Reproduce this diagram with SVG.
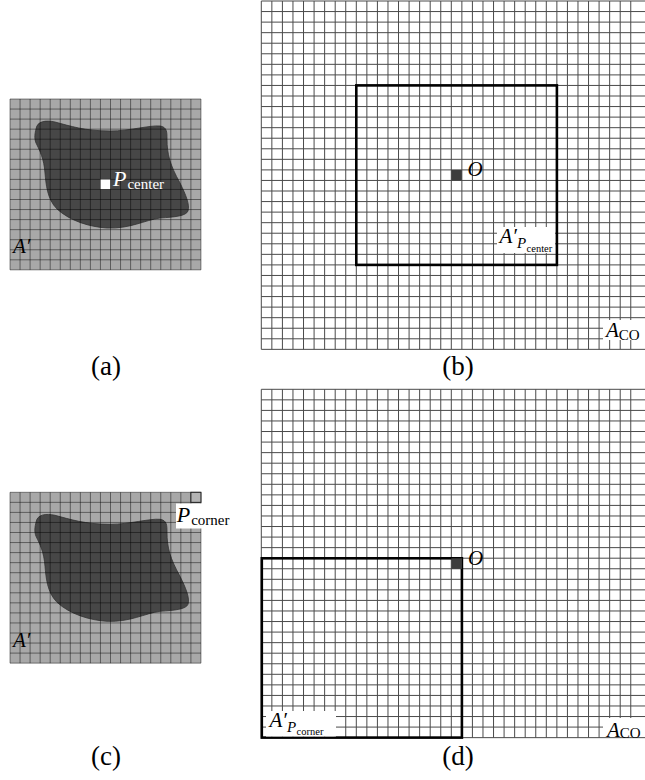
<svg xmlns="http://www.w3.org/2000/svg" xmlns:xlink="http://www.w3.org/1999/xlink" width="645" height="780" viewBox="0 0 645 780">
<style>
.serif{font-family:"Liberation Serif","Times New Roman",serif;}
.it{font-style:italic;}
.up{font-style:normal;}
.cap{font-size:27px;text-anchor:middle;}
.big{font-size:21px;}
.gridL{fill:none;stroke:#000;stroke-opacity:0.45;stroke-width:1;}
.gridB{fill:none;stroke:#4a4a4a;stroke-width:1;}
.frame{fill:none;stroke:#000;stroke-width:2.6;}
</style>
<defs>
<path id="blob" d="M26 30C27 22 36 21 45 23C60 27 75 32 100 32C120 32 140 26 150 27C157 28 157 33 157 40C157 55 160 66 170 84C176 96 180 106 178 112C176 117 165 118 150 119C135 121 120 130 97 129C80 128 60 122 47 110C37 100 36 85 35 74C34 60 30 52 26 44C24 39 25 34 26 30Z" fill="#474747" stroke="#333" stroke-width="0.8"/>
<path id="smallGrid" class="gridL" d="M0 0v170.85m10.05-170.85v170.85m10.05-170.85v170.85m10.05-170.85v170.85m10.05-170.85v170.85m10.05-170.85v170.85m10.05-170.85v170.85m10.05-170.85v170.85m10.05-170.85v170.85m10.05-170.85v170.85m10.05-170.85v170.85m10.05-170.85v170.85m10.05-170.85v170.85m10.05-170.85v170.85m10.05-170.85v170.85m10.05-170.85v170.85m10.05-170.85v170.85m10.05-170.85v170.85m10.05-170.85v170.85m10.05-170.85v170.85M0 0h190.95m-190.95 10.05h190.95m-190.95 10.05h190.95m-190.95 10.05h190.95m-190.95 10.05h190.95m-190.95 10.05h190.95m-190.95 10.05h190.95m-190.95 10.05h190.95m-190.95 10.05h190.95m-190.95 10.05h190.95m-190.95 10.05h190.95m-190.95 10.05h190.95m-190.95 10.05h190.95m-190.95 10.05h190.95m-190.95 10.05h190.95m-190.95 10.05h190.95m-190.95 10.05h190.95m-190.95 10.05h190.95"/>
<path id="bigGrid" class="gridB" d="M0 0v348.35m10.556-348.35v348.35m10.556-348.35v348.35m10.556-348.35v348.35m10.556-348.35v348.35m10.556-348.35v348.35m10.556-348.35v348.35m10.556-348.35v348.35m10.556-348.35v348.35m10.556-348.35v348.35m10.556-348.35v348.35m10.556-348.35v348.35m10.556-348.35v348.35m10.556-348.35v348.35m10.556-348.35v348.35m10.556-348.35v348.35m10.556-348.35v348.35m10.556-348.35v348.35m10.556-348.35v348.35m10.556-348.35v348.35m10.556-348.35v348.35m10.556-348.35v348.35m10.556-348.35v348.35m10.556-348.35v348.35m10.556-348.35v348.35m10.556-348.35v348.35m10.556-348.35v348.35m10.556-348.35v348.35m10.556-348.35v348.35m10.556-348.35v348.35m10.556-348.35v348.35m10.556-348.35v348.35m10.556-348.35v348.35m10.556-348.35v348.35m10.556-348.35v348.35m10.556-348.35v348.35M0 0h384m-384 10.556h384m-384 10.556h384m-384 10.556h384m-384 10.556h384m-384 10.556h384m-384 10.556h384m-384 10.556h384m-384 10.556h384m-384 10.556h384m-384 10.556h384m-384 10.556h384m-384 10.556h384m-384 10.556h384m-384 10.556h384m-384 10.556h384m-384 10.556h384m-384 10.556h384m-384 10.556h384m-384 10.556h384m-384 10.556h384m-384 10.556h384m-384 10.556h384m-384 10.556h384m-384 10.556h384m-384 10.556h384m-384 10.556h384m-384 10.556h384m-384 10.556h384m-384 10.556h384m-384 10.556h384m-384 10.556h384m-384 10.556h384m-384 10.556h384"/>
</defs>

<!-- Panel (a) -->
<g id="panel-a">
<rect x="10" y="99" width="190.95" height="170.85" fill="#a8a8a8"/>
<use xlink:href="#blob" href="#blob" transform="translate(10,99)"/>
<use xlink:href="#smallGrid" href="#smallGrid" transform="translate(10,99)"/>
<rect x="100.6" y="179.5" width="9.6" height="9.6" fill="#fff"/>
<text class="serif it" x="113" y="185.5" fill="#fff" font-size="22">P<tspan class="up" font-size="15" dy="3.5" dx="1">center</tspan></text>
<text class="serif it big" x="13" y="253">A′</text>
</g>

<!-- Panel (b) -->
<g id="panel-b">
<use xlink:href="#bigGrid" href="#bigGrid" transform="translate(261.3,1)"/>
<rect class="frame" x="356.3" y="85.4" width="200.6" height="179.5"/>
<rect x="451.3" y="169.9" width="10.6" height="10.6" fill="#3d3d3d"/>
<text class="serif it big" x="467.5" y="175.5">O</text>
<rect x="497" y="227" width="58" height="26" fill="#fff"/>
<text class="serif it big" x="499.5" y="243">A′<tspan font-size="15" dy="5.3">P</tspan><tspan class="up" font-size="10.5" dy="3.4" dx="0.5">center</tspan></text>
<rect x="603" y="320" width="42" height="20" fill="#fff"/>
<text class="serif it big" x="606" y="337">A<tspan class="up" font-size="15" dy="2.5">CO</tspan></text>
</g>

<!-- Panel (c) -->
<g id="panel-c">
<rect x="10" y="492.3" width="190.95" height="170.85" fill="#a8a8a8"/>
<use xlink:href="#blob" href="#blob" transform="translate(10,492.3)"/>
<use xlink:href="#smallGrid" href="#smallGrid" transform="translate(10,492.3)"/>
<rect x="176" y="503.5" width="58" height="25" fill="#fff"/>
<rect x="190.9" y="492.3" width="10.05" height="10.05" fill="#b4b4b4" stroke="#222" stroke-width="1"/>
<text class="serif it" x="176.7" y="521.7" font-size="22">P<tspan class="up" font-size="15" dy="3.3" dx="1">corner</tspan></text>
<text class="serif it big" x="13" y="646.5">A′</text>
</g>

<!-- Panel (d) -->
<g id="panel-d">
<use xlink:href="#bigGrid" href="#bigGrid" transform="translate(261.3,389.3)"/>
<rect class="frame" x="261.8" y="558.3" width="200.1" height="179.3"/>
<rect x="451.3" y="558.3" width="10.6" height="10.6" fill="#3d3d3d"/>
<text class="serif it big" x="468" y="564.5">O</text>
<rect x="266" y="711" width="70" height="25.5" fill="#fff"/>
<text class="serif it big" x="269.5" y="727">A′<tspan font-size="15" dy="5">P</tspan><tspan class="up" font-size="10.5" dy="3" dx="0.5">corner</tspan></text>
<rect x="603" y="718" width="42" height="19" fill="#fff"/>
<text class="serif it big" x="607" y="736.5">A<tspan class="up" font-size="15" dy="1.5">CO</tspan></text>
</g>

<g id="captions">
<text class="serif cap" x="106" y="375">(a)</text>
<text class="serif cap" x="458" y="375">(b)</text>
<text class="serif cap" x="106" y="765">(c)</text>
<text class="serif cap" x="458" y="765">(d)</text>
</g>
<g id="connectors"/>
</svg>
